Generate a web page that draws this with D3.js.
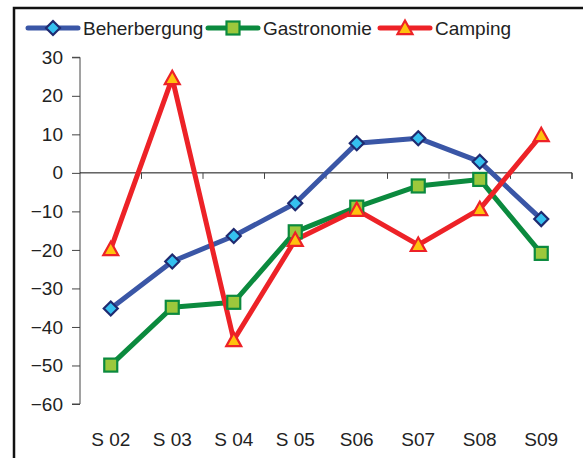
<!DOCTYPE html>
<html>
<head>
<meta charset="utf-8">
<script src="https://cdn.jsdelivr.net/npm/d3@7"></script>
<style>
  body { margin: 0; background: #fff; }
  svg { display: block; font-family: "Liberation Sans", Arial, sans-serif; }
</style>
</head>
<body>
<svg id="chart" width="583" height="458"></svg>
<script>
const width = 583;
const height = 458;

// data
const seasons = ["S 02", "S 03", "S 04", "S 05", "S06", "S07", "S08", "S09"];
const beherbergung = [-35.2, -23.0, -16.4, -7.9, 7.7, 9.0, 2.9, -12.0];
const gastronomie = [-49.9, -34.9, -33.6, -15.3, -8.9, -3.4, -1.7, -20.9];
const camping = [-19.8, 24.6, -43.4, -17.4, -9.6, -18.7, -9.4, 9.8];
const yTicks = [30, 20, 10, 0, -10, -20, -30, -40, -50, -60];

const series = [
  { name: "Beherbergung", values: beherbergung, line: "#3a56a6", fill: "#35c0ef", stroke: "#1f2a70", shape: "diamond" },
  { name: "Gastronomie", values: gastronomie, line: "#0b8a3e", fill: "#9cc83c", stroke: "#0b8a3e", shape: "square" },
  { name: "Camping", values: camping, line: "#ed2227", fill: "#ffc20e", stroke: "#ed2227", shape: "triangle" },
];

const svg = d3.select("#chart");

const x = d3.scaleBand().domain(seasons).range([80, 572]);
const y = d3.scaleLinear().domain([-60, 30]).range([404, 57.3]);

// frame (top + left)
svg.append("path")
  .attr("d", `M14,458 V8 H583`)
  .attr("fill", "none")
  .attr("stroke", "#111")
  .attr("stroke-width", 2.5);

// y axis
const yAxis = svg.append("g")
  .attr("transform", "translate(80,0)")
  .call(d3.axisLeft(y).tickValues(yTicks).tickSize(8).tickPadding(9).tickFormat(d => d < 0 ? "\u2212" + Math.abs(d) : d));
yAxis.select(".domain").attr("stroke", "#444").attr("d", `M-8,${y(30)}H0V${y(-60)}H-8`);
yAxis.selectAll(".tick line").attr("stroke", "#444");
yAxis.selectAll("text").attr("font-size", 19).attr("fill", "#222").style("font-family", "inherit");

// zero line with category ticks
const xAxis = svg.append("g")
  .attr("transform", `translate(0,${y(0)})`)
  .call(d3.axisBottom(x).tickSize(0).tickFormat(""));
xAxis.select(".domain").attr("stroke", "#111").attr("d", `M80,0H572V6`);
const bounds = seasons.slice(1).map(s => x(s)).concat([572]);
xAxis.selectAll(".sep").data(bounds).enter().append("line")
  .attr("class", "sep")
  .attr("x1", d => d).attr("x2", d => d)
  .attr("y1", 0).attr("y2", 6)
  .attr("stroke", "#444");

// category labels
svg.append("g").selectAll("text")
  .data(seasons).enter().append("text")
  .attr("x", d => x(d) + x.bandwidth() / 2)
  .attr("y", 446)
  .attr("text-anchor", "middle")
  .attr("font-size", 19)
  .attr("fill", "#222")
  .text(d => d);

function marker(sel, s, size) {
  const r = size / 2;
  if (s.shape === "diamond") {
    sel.append("path").attr("d", `M0,${-r}L${r},0L0,${r}L${-r},0Z`);
  } else if (s.shape === "square") {
    sel.append("rect").attr("x", -r).attr("y", -r)
      .attr("width", size).attr("height", size);
  } else {
    const h = size * 0.9;
    sel.append("path").attr("d", `M0,${-h * 0.55}L${r},${h * 0.45}L${-r},${h * 0.45}Z`);
  }
  sel.selectAll("*").attr("fill", s.fill).attr("stroke", s.stroke).attr("stroke-width", 2.2)
    .attr("stroke-linejoin", "miter");
}

const sizes = { diamond: 14, square: 13, triangle: 15 };

// lines
const line = d3.line().x((d, i) => x(seasons[i]) + x.bandwidth() / 2).y(d => y(d));
series.forEach(s => {
  svg.append("path")
    .datum(s.values)
    .attr("d", line)
    .attr("fill", "none")
    .attr("stroke", s.line)
    .attr("stroke-width", 5)
    .attr("stroke-linejoin", "round");
});
series.forEach(s => {
  svg.append("g").selectAll("g")
    .data(s.values).enter().append("g")
    .attr("transform", (d, i) => `translate(${x(seasons[i]) + x.bandwidth() / 2},${y(d)})`)
    .each(function () { marker(d3.select(this), s, sizes[s.shape]); });
});

// legend
const legendPos = [28, 208, 380];
series.forEach((s, i) => {
  const g = svg.append("g").attr("transform", `translate(${legendPos[i]},28)`);
  g.append("line").attr("x1", 0).attr("x2", 50).attr("stroke", s.line).attr("stroke-width", 5)
    .attr("stroke-linecap", "round");
  const m = g.append("g").attr("transform", "translate(25,0)");
  marker(m, s, sizes[s.shape]);
  g.append("text").attr("x", 55).attr("y", 7).attr("font-size", 19).attr("fill", "#222").text(s.name);
});
</script>
</body>
</html>
